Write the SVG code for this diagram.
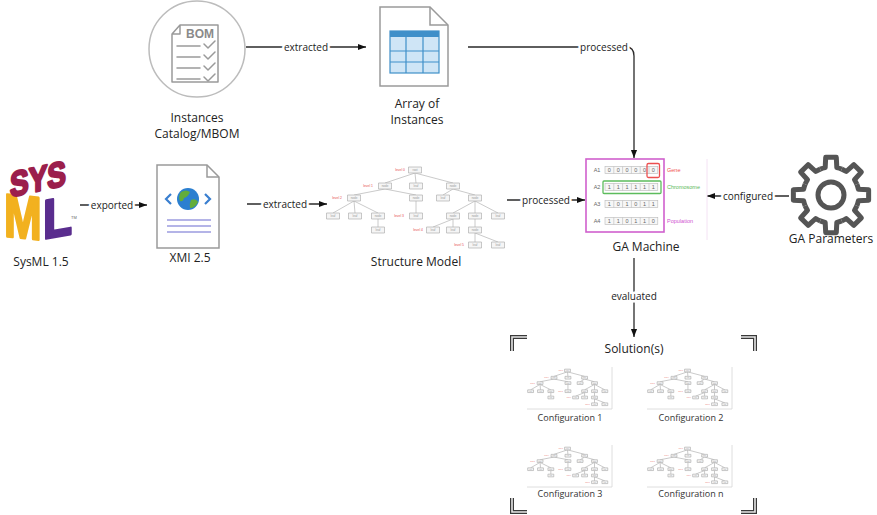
<svg xmlns="http://www.w3.org/2000/svg" xmlns:xlink="http://www.w3.org/1999/xlink" width="877" height="515" viewBox="0 0 877 515">
  <style>
    .lbl { font-family: "Open Sans", "Liberation Sans", sans-serif; font-size: 12px; fill: #222; text-anchor: middle; }
    .clbl { font-family: "Open Sans", "Liberation Sans", sans-serif; font-size: 10px; fill: #222; text-anchor: middle; stroke: #fff; stroke-width: 5px; paint-order: stroke; stroke-linejoin: round; }
    .cfg { font-family: "Open Sans", "Liberation Sans", sans-serif; font-size: 9px; fill: #333; text-anchor: middle; }
    .conn { fill: none; stroke: #2a2a2a; stroke-width: 1.3; }
    .gray { fill: none; stroke: #9a9a9a; stroke-width: 1.5; stroke-linejoin: round; stroke-linecap: round; }
    .tn { fill: #f5f5f5; stroke: #b0b0b0; stroke-width: 0.7; vector-effect: non-scaling-stroke; }
    .te { fill: none; stroke: #bdbdbd; stroke-width: 0.8; vector-effect: non-scaling-stroke; }
    .tt { font-family: "Liberation Sans", sans-serif; font-size: 3px; fill: #999; text-anchor: middle; }
    .tl { font-family: "Liberation Sans", sans-serif; font-size: 3.4px; fill: #e65050; text-anchor: end; }
    .cell { fill: #f7f7f7; stroke: #b8b8b8; stroke-width: 0.6; }
    .dig { font-family: "Liberation Sans", sans-serif; font-size: 5.5px; fill: #666; text-anchor: middle; }
    .brk-o { fill: none; stroke: #3a3a3a; stroke-width: 4; stroke-linejoin: miter; }
    .brk-i { fill: none; stroke: #e6e6e6; stroke-width: 1.6; stroke-linejoin: miter; }
    .gear { fill: none; stroke: #555; stroke-width: 5; stroke-linejoin: round; }
  </style>
  <defs>
    <marker id="ah" viewBox="0 0 10 10" refX="10" refY="5" markerUnits="userSpaceOnUse" markerWidth="8" markerHeight="8" orient="auto">
      <path d="M0,1.2 L10,5 L0,8.8 Z" fill="#111"/>
    </marker>
    <!-- tree picture reused for the structure model and the configuration thumbnails -->
    <g id="tree">
      <path class="te" d="M415,173 L385,183 M415,173 L416,183 M415,173 L453,183 M385,189 L354,195 M385,189 L416,195 M453,189 L443,195 M453,189 L475,195 M354,201 L333,213 M354,201 L355,213 M354,201 L378,213 M416,201 L416,213 M475,201 L453,213 M475,201 L475,213 M475,201 L498,213 M378,219 L378,227 M453,219 L433,227 M453,219 L453,227 M475,219 L475,227 M475,233 L475,242 M475,233 L498,242"/>
      <rect class="tn" x="408.5" y="167" width="13" height="6"/>
      <rect class="tn" x="378.5" y="183" width="13" height="6"/>
      <rect class="tn" x="409.5" y="183" width="13" height="6"/>
      <rect class="tn" x="446.5" y="183" width="13" height="6"/>
      <rect class="tn" x="347.5" y="195" width="13" height="6"/>
      <rect class="tn" x="409.5" y="195" width="13" height="6"/>
      <rect class="tn" x="436.5" y="195" width="13" height="6"/>
      <rect class="tn" x="468.5" y="195" width="13" height="6"/>
      <rect class="tn" x="326.5" y="213" width="13" height="6"/>
      <rect class="tn" x="348.5" y="213" width="13" height="6"/>
      <rect class="tn" x="371.5" y="213" width="13" height="6"/>
      <rect class="tn" x="409.5" y="213" width="13" height="6"/>
      <rect class="tn" x="446.5" y="213" width="13" height="6"/>
      <rect class="tn" x="468.5" y="213" width="13" height="6"/>
      <rect class="tn" x="491.5" y="213" width="13" height="6"/>
      <rect class="tn" x="371.5" y="227" width="13" height="6"/>
      <rect class="tn" x="426.5" y="227" width="13" height="6"/>
      <rect class="tn" x="446.5" y="227" width="13" height="6"/>
      <rect class="tn" x="468.5" y="227" width="13" height="6"/>
      <rect class="tn" x="468.5" y="242" width="13" height="6"/>
      <rect class="tn" x="491.5" y="242" width="13" height="6"/>
      <text class="tt" x="415" y="171">root</text>
      <text class="tt" x="385" y="187">node</text>
      <text class="tt" x="416" y="187">leaf</text>
      <text class="tt" x="453" y="187">node</text>
      <text class="tt" x="354" y="199">node</text>
      <text class="tt" x="416" y="199">node</text>
      <text class="tt" x="443" y="199">leaf</text>
      <text class="tt" x="475" y="199">node</text>
      <text class="tt" x="333" y="217">leaf</text>
      <text class="tt" x="355" y="217">leaf</text>
      <text class="tt" x="378" y="217">node</text>
      <text class="tt" x="416" y="217">leaf</text>
      <text class="tt" x="453" y="217">node</text>
      <text class="tt" x="475" y="217">node</text>
      <text class="tt" x="498" y="217">leaf</text>
      <text class="tt" x="378" y="231">leaf</text>
      <text class="tt" x="433" y="231">leaf</text>
      <text class="tt" x="453" y="231">leaf</text>
      <text class="tt" x="475" y="231">node</text>
      <text class="tt" x="475" y="246">leaf</text>
      <text class="tt" x="498" y="246">leaf</text>
      <text class="tl" x="405" y="171">level 0</text>
      <text class="tl" x="373" y="187">level 1</text>
      <text class="tl" x="342" y="199">level 2</text>
      <text class="tl" x="404" y="217">level 3</text>
      <text class="tl" x="423" y="231">level 4</text>
      <text class="tl" x="464" y="246">level 5</text>
    </g>
    <path id="tooth" d="M25.87,-10.72 A28,28 0 0 1 27.39,-5.82 L37.63,-5.29 L37.63,5.29 L27.39,5.82 A28,28 0 0 1 25.87,10.72"/>
  </defs>

  <rect width="877" height="515" fill="#fff"/>

  <!-- connectors -->
  <g id="connectors">
    <path class="conn" d="M246,47 H366" marker-end="url(#ah)"/>
    <text class="clbl" x="306" y="50.5">extracted</text>
    <path class="conn" d="M468,47 H626 Q634,47 634,56 V158" marker-end="url(#ah)"/>
    <text class="clbl" x="604" y="50.5">processed</text>
    <path class="conn" d="M80,205 H147" marker-end="url(#ah)"/>
    <text class="clbl" x="112" y="208.5">exported</text>
    <path class="conn" d="M247,204 H327" marker-end="url(#ah)"/>
    <text class="clbl" x="285" y="207.5">extracted</text>
    <path class="conn" d="M507,200 H585" marker-end="url(#ah)"/>
    <text class="clbl" x="546" y="203.5">processed</text>
    <path class="conn" d="M789,196 H707" marker-end="url(#ah)"/>
    <text class="clbl" x="748" y="199.5">configured</text>
    <path class="conn" d="M634,258 V337" marker-end="url(#ah)"/>
    <text class="clbl" x="634" y="300">evaluated</text>
  </g>

  <!-- Instances Catalog / MBOM -->
  <g id="bom">
    <circle cx="197" cy="49" r="48" fill="none" stroke="#bcbcbc" stroke-width="1.5"/>
    <path class="gray" d="M180,25 H218 V82 H172 V34 Z M172,34 H180 V25"/>
    <text x="200" y="37.5" font-family="Liberation Sans, sans-serif" font-size="12" fill="#8a8a8a" text-anchor="middle" font-weight="bold">BOM</text>
    <path class="gray" d="M177,46 H200 M177,57 H200 M177,68 H200 M177,79 H200"/>
    <path class="gray" d="M204,44 L208,48 L215,41 M204,55 L208,59 L215,52 M204,66 L208,70 L215,63 M204,77 L208,81 L215,74"/>
    <text class="lbl" x="197" y="122">Instances</text>
    <text class="lbl" x="197" y="138">Catalog/MBOM</text>
  </g>

  <!-- Array of Instances -->
  <g id="array">
    <path d="M380,7 H430 L448,25 V86 H380 Z" fill="#fff" stroke="#9a9a9a" stroke-width="1.5"/>
    <path d="M430,7 V25 H448" fill="none" stroke="#9a9a9a" stroke-width="1.5"/>
    <rect x="390" y="31" width="49" height="42" fill="#cfe5f6" stroke="#3f8fc9" stroke-width="1.2"/>
    <rect x="390" y="31" width="49" height="6" fill="#3f8fc9"/>
    <path d="M390,51 H439 M390,62 H439 M406,37 V73 M423,37 V73" stroke="#3f8fc9" stroke-width="1.2" fill="none"/>
    <text class="lbl" x="417" y="108">Array of</text>
    <text class="lbl" x="417" y="124">Instances</text>
  </g>

  <!-- SysML logo -->
  <g id="sysml" font-family="Liberation Sans, Arial, sans-serif" font-weight="bold" stroke-linejoin="round">
    <text transform="translate(4,236) skewY(6) scale(0.78,1.05)" font-size="58" fill="#f2b11f" stroke="#f2b11f" stroke-width="2.5">M</text>
    <text transform="translate(43,239) skewY(-10) scale(0.95,1.1)" font-size="50" fill="#5a2d8e" stroke="#5a2d8e" stroke-width="2.5">L</text>
    <text transform="translate(10,197) skewY(-12) scale(1,1.25)" font-size="28" fill="#9b1f4c" stroke="#9b1f4c" stroke-width="2">SYS</text>
    <text x="71" y="219" font-size="4" font-weight="normal" fill="#666">TM</text>
    <text class="lbl" x="41" y="266" font-weight="normal">SysML 1.5</text>
  </g>

  <!-- XMI 2.5 -->
  <g id="xmi">
    <path d="M157,165 H207 L219,177 V248 H157 Z" fill="#fff" stroke="#9a9a9a" stroke-width="1.5"/>
    <path d="M207,165 V177 H219" fill="none" stroke="#9a9a9a" stroke-width="1.5"/>
    <path d="M171,194 L166,199 L171,204 M205,194 L210,199 L205,204" fill="none" stroke="#3a7fd0" stroke-width="2.2"/>
    <circle cx="188" cy="199" r="11" fill="#2b7fd0"/>
    <path d="M181,192 Q186,189 190,192 Q188,197 184,198 Q183,202 180,201 Q178,196 181,192 Z" fill="#62ad3a"/>
    <path d="M191,200 Q196,198 198,202 Q195,208 190,208 Q189,204 191,200 Z" fill="#62ad3a"/>
    <path d="M167,220 H211 M167,226 H211 M167,232 H211" stroke="#6b6bd0" stroke-width="1.2"/>
    <text class="lbl" x="190" y="262">XMI 2.5</text>
  </g>

  <!-- Structure Model -->
  <g id="structure">
    <use xlink:href="#tree"/>
    <text class="lbl" x="416" y="266">Structure Model</text>
  </g>

  <!-- GA Machine -->
  <g id="ga-machine">
    <path d="M707,159 V240" stroke="#f4e2f4" stroke-width="1"/>
    <g class="dig" fill="#777">
      <text x="597" y="172">A1</text>
      <text x="597" y="189">A2</text>
      <text x="597" y="206">A3</text>
      <text x="597" y="223">A4</text>
    </g>
    <g>
      <rect class="cell" x="605" y="166.5" width="52.8" height="7"/>
      <rect class="cell" x="605" y="183.5" width="52.8" height="7"/>
      <rect class="cell" x="605" y="200.5" width="52.8" height="7"/>
      <rect class="cell" x="605" y="217.5" width="52.8" height="7"/>
      <path d="M613.8,166.5 v7 M622.6,166.5 v7 M631.4,166.5 v7 M640.2,166.5 v7 M649,166.5 v7 M613.8,183.5 v7 M622.6,183.5 v7 M631.4,183.5 v7 M640.2,183.5 v7 M649,183.5 v7 M613.8,200.5 v7 M622.6,200.5 v7 M631.4,200.5 v7 M640.2,200.5 v7 M649,200.5 v7 M613.8,217.5 v7 M622.6,217.5 v7 M631.4,217.5 v7 M640.2,217.5 v7 M649,217.5 v7" stroke="#b8b8b8" stroke-width="0.6"/>
    </g>
    <g class="dig">
      <text x="609.4" y="172">0</text><text x="618.2" y="172">0</text><text x="627" y="172">0</text><text x="635.8" y="172">0</text><text x="644.6" y="172">0</text><text x="653.4" y="172">0</text>
      <text x="609.4" y="189">1</text><text x="618.2" y="189">1</text><text x="627" y="189">1</text><text x="635.8" y="189">1</text><text x="644.6" y="189">1</text><text x="653.4" y="189">1</text>
      <text x="609.4" y="206">1</text><text x="618.2" y="206">0</text><text x="627" y="206">1</text><text x="635.8" y="206">0</text><text x="644.6" y="206">1</text><text x="653.4" y="206">1</text>
      <text x="609.4" y="223">1</text><text x="618.2" y="223">1</text><text x="627" y="223">0</text><text x="635.8" y="223">1</text><text x="644.6" y="223">1</text><text x="653.4" y="223">0</text>
    </g>
    <rect x="647" y="163.5" width="12.5" height="14" rx="1.5" fill="none" stroke="#ec4f4f" stroke-width="1.3"/>
    <rect x="603" y="181" width="58" height="12.5" rx="1" fill="none" stroke="#5cbc5c" stroke-width="1.3"/>
    <rect x="586" y="159" width="78" height="73" fill="none" stroke="#d060cd" stroke-width="1.6"/>
    <g font-family="Liberation Sans, sans-serif" font-size="5.5">
      <text x="667" y="172" fill="#f05050">Gene</text>
      <text x="667" y="189" fill="#5ab95a">Chromosome</text>
      <text x="667" y="223" fill="#d050d0">Population</text>
    </g>
    <text class="lbl" x="646" y="251">GA Machine</text>
  </g>

  <!-- GA Parameters -->
  <g id="ga-parameters">
    <g transform="translate(831,195)" class="gear">
      <use xlink:href="#tooth"/>
      <use xlink:href="#tooth" transform="rotate(45)"/>
      <use xlink:href="#tooth" transform="rotate(90)"/>
      <use xlink:href="#tooth" transform="rotate(135)"/>
      <use xlink:href="#tooth" transform="rotate(180)"/>
      <use xlink:href="#tooth" transform="rotate(225)"/>
      <use xlink:href="#tooth" transform="rotate(270)"/>
      <use xlink:href="#tooth" transform="rotate(315)"/>
      <circle r="13"/>
    </g>
    <text class="lbl" x="831" y="243">GA Parameters</text>
  </g>

  <!-- Solutions -->
  <g id="solutions">
    <path class="brk-o" d="M527,337 H512 V351 M741,337 H755 V351 M512,498 V512 H527 M755,498 V512 H741"/>
    <path class="brk-i" d="M527,337 H512 V351 M741,337 H755 V351 M512,498 V512 H527 M755,498 V512 H741"/>
    <text class="lbl" x="634" y="353">Solution(s)</text>
  </g>

  <g id="config-1">
    <use xlink:href="#tree" transform="translate(527,366) scale(0.45) translate(-325,-160)"/>
    <path d="M612,367 V409 H527" fill="none" stroke="#d6d6d6" stroke-width="0.8"/>
    <text class="cfg" x="570" y="421">Configuration 1</text>
  </g>
  <g id="config-2">
    <use xlink:href="#tree" transform="translate(647,366) scale(0.45) translate(-325,-160)"/>
    <path d="M732,367 V409 H647" fill="none" stroke="#d6d6d6" stroke-width="0.8"/>
    <text class="cfg" x="691" y="421">Configuration 2</text>
  </g>
  <g id="config-3">
    <use xlink:href="#tree" transform="translate(527,444) scale(0.45) translate(-325,-160)"/>
    <path d="M612,445 V487 H527" fill="none" stroke="#d6d6d6" stroke-width="0.8"/>
    <text class="cfg" x="570" y="497">Configuration 3</text>
  </g>
  <g id="config-n">
    <use xlink:href="#tree" transform="translate(647,444) scale(0.45) translate(-325,-160)"/>
    <path d="M732,445 V487 H647" fill="none" stroke="#d6d6d6" stroke-width="0.8"/>
    <text class="cfg" x="691" y="497">Configuration n</text>
  </g>
</svg>
